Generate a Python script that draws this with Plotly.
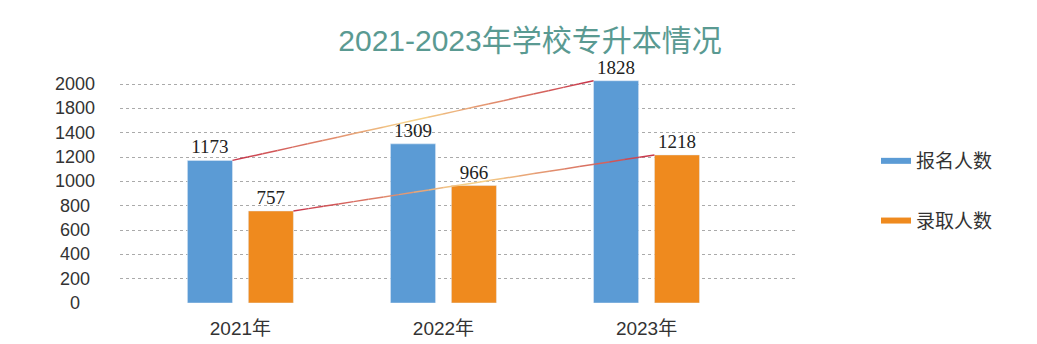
import numpy as np
import plotly.graph_objects as go

years = ["2021年", "2022年", "2023年"]
applicants = [1173, 1309, 1828]   # 报名人数
admitted = [757, 966, 1218]       # 录取人数
series_names = ["报名人数", "录取人数"]
y_tick_values = [0, 200, 400, 600, 800, 1000, 1200, 1400, 1600, 1800]
y_tick_labels = ["0", "200", "400", "600", "800", "1000", "1200", "1400", "1800", "2000"]

BLUE = "#5b9bd5"
ORANGE = "#ef8a1e"
RED = (200, 52, 74)
YELLOW = (247, 215, 140)
SANS = "Liberation Sans, Arial, Noto Sans CJK SC, sans-serif"
SERIF = "Liberation Serif, Times New Roman, serif"

W = 0.222
OFF_B = -0.261
OFF_O = 0.039

xpos = list(range(len(years)))

fig = go.Figure()
fig.add_trace(go.Bar(x=xpos, y=applicants, width=W, offset=OFF_B, marker_color=BLUE,
                     text=applicants, textposition="outside", cliponaxis=False,
                     textfont=dict(family=SERIF, size=19, color="#222"),
                     showlegend=False, name=series_names[0]))
fig.add_trace(go.Bar(x=xpos, y=admitted, width=W, offset=OFF_O, marker_color=ORANGE,
                     text=admitted, textposition="outside", cliponaxis=False,
                     textfont=dict(family=SERIF, size=19, color="#222"),
                     showlegend=False, name=series_names[1]))


def grad_line(x0, y0, x1, y1, n=24):
    for i in range(n):
        t0, t1 = i / n, (i + 1) / n
        tm = (t0 + t1) / 2
        k = 1 - abs(tm - 0.5) * 2  # 0 at ends, 1 in middle
        c = tuple(int(RED[j] + (YELLOW[j] - RED[j]) * k) for j in range(3))
        fig.add_trace(go.Scatter(
            x=[x0 + (x1 - x0) * t0, x0 + (x1 - x0) * t1],
            y=[y0 + (y1 - y0) * t0, y0 + (y1 - y0) * t1],
            mode="lines", line=dict(color="rgb(%d,%d,%d)" % c, width=1.5),
            showlegend=False, hoverinfo="skip", cliponaxis=False))


grad_line(xpos[0] + OFF_B + W, applicants[0], xpos[-1] + OFF_B, applicants[-1])
grad_line(xpos[0] + OFF_O + W, admitted[0], xpos[-1] + OFF_O, admitted[-1])

# legend entries
fig.add_trace(go.Scatter(x=[None], y=[None], mode="lines", name=series_names[0],
                         line=dict(color=BLUE, width=6), legendgroup="a"))
fig.add_trace(go.Scatter(x=[None], y=[None], mode="lines", name=series_names[1],
                         line=dict(color=ORANGE, width=6), legendgroup="b"))

annotations = []
for v, lab in zip(y_tick_values, y_tick_labels):
    annotations.append(dict(x=-0.0671, xref="paper", y=v, yref="y", text=lab,
                            showarrow=False, xanchor="center", yanchor="middle",
                            font=dict(family=SANS, size=18, color="#333")))

fig.update_layout(
    width=1037, height=344,
    margin=dict(l=120, r=239, t=72, b=41, autoexpand=False),
    paper_bgcolor="white", plot_bgcolor="white",
    barmode="overlay",
    title=dict(text="2021-2023年学校专升本情况", x=530 / 1037, xanchor="center",
               y=1 - 40 / 344, yanchor="middle",
               font=dict(family=SANS, size=30, color="#5a9a92")),
    xaxis=dict(range=[-0.593, 2.746], tickvals=xpos, ticktext=years, showgrid=False,
               zeroline=False, showline=False, ticks="", ticklabelstandoff=12,
               automargin=False,
               tickfont=dict(family=SANS, size=19, color="#333")),
    yaxis=dict(range=[0, 1900], tickvals=y_tick_values, showticklabels=False,
               showgrid=True, gridcolor="#aaaaaa", griddash="dot", gridwidth=1,
               zeroline=False, showline=False, ticks="", automargin=False),
    legend=dict(xref="container", yref="container", x=876 / 1037, y=1 - 142 / 344,
                xanchor="left", yanchor="top", traceorder="grouped",
                tracegroupgap=32, font=dict(family=SANS, size=19, color="#333"),
                bgcolor="rgba(0,0,0,0)"),
    annotations=annotations,
    hovermode=False,
)

fig.write_html("out.html")
